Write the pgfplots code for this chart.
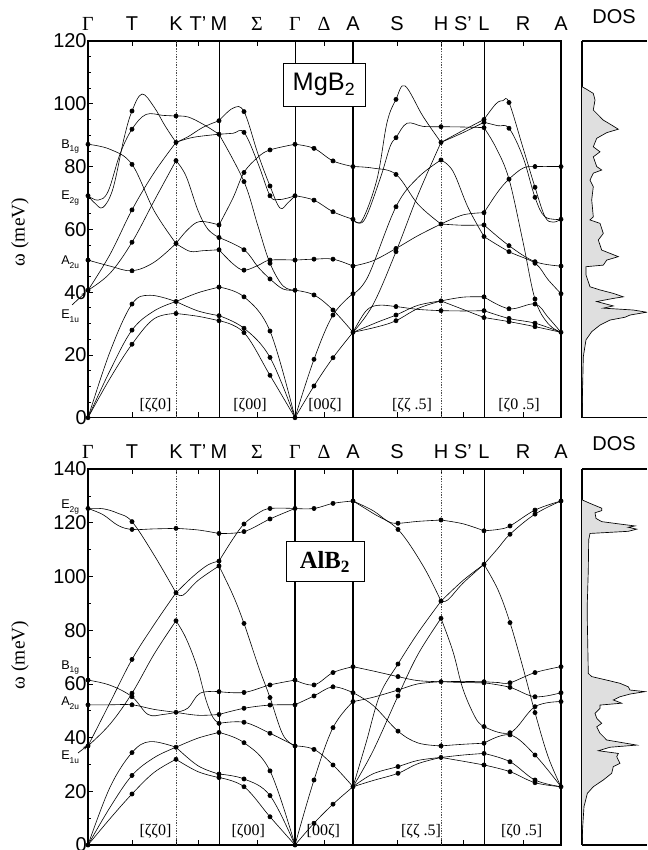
\documentclass[border=0pt]{standalone}
\usepackage{fontspec}
\setmainfont{Liberation Sans}
\newfontfamily\tms{Liberation Serif}
\usepackage{pgfplots}
\pgfplotsset{compat=1.18}
\usetikzlibrary{arrows.meta}
\newcommand\lab{\fontsize{15}{16}\selectfont}
\newcommand\md[2]{{\fontsize{9.5}{9.5}\selectfont #1\raisebox{-0.45ex}{\fontsize{6.3}{6.3}\selectfont #2}}}
\newcommand\B[1]{\addplot[br] coordinates {#1};}
\tikzset{
  vl/.style={line width=0.5pt},
  vd/.style={line width=0.5pt, gray!60!black, dash pattern=on 1pt off 1pt},
}
\pgfplotsset{
  br/.style={black, line width=0.45pt, smooth, tension=0.6, mark=none},
  dots/.style={only marks, mark=*, mark size=1.6pt, black},
  main/.style={anchor=south west, scale only axis, width=354.75pt,
    xmin=0, xmax=473, ymin=0,
    xtick={0,44,88,110,131,169,207,236,265,309,353,375,396,435,473},
    xticklabels={{\tms Γ},T,K,T’,M,{\tms Σ},{\tms Γ},{\tms Δ},A,S,H,S’,L,R,A},
    xtick pos=both, xticklabel pos=upper, ytick pos=left,
    tick align=inside, major tick length=4pt, minor tick length=2pt,
    axis line style={line width=0.9pt},
    tick style={line width=0.5pt, black},
    tick label style={font=\lab},
    yticklabel style={xshift=2.5pt},
    xticklabel style={anchor=base, yshift=7.6pt},
    /pgf/number format/assume math mode=true},
  dos/.style={anchor=south west, scale only axis, width=48.75pt,
    xmin=0, xmax=65, ymin=0, ticks=none,
    axis x line*=box, axis y line*=left,
    axis line style={line width=0.9pt,-}},
}
\begin{document}
\begin{tikzpicture}
\useasboundingbox (0,0) rectangle (485.25pt,637.5pt);
% ===================== MgB2 =====================
\begin{axis}[main, at={(66pt,324.225pt)}, height=282.525pt, ymax=120,
  ytick={0,20,...,120}, minor y tick num=3]
\draw[vd] (axis cs:88,0) -- (axis cs:88,120);
\draw[vl] (axis cs:131,0) -- (axis cs:131,120);
\draw[vl] (axis cs:207,0) -- (axis cs:207,120);
\draw[line width=0.8pt] (axis cs:265,0) -- (axis cs:265,120);
\draw[vd] (axis cs:353,0) -- (axis cs:353,120);
\draw[vl] (axis cs:396,0) -- (axis cs:396,120);
% Gamma-K
\B{(0,0)(22,12.5)(44,23.4)(66,31.5)(88,33.2)}
\B{(0,0)(22,15)(44,27.9)(66,34)(88,37.0)}
\B{(0,0)(22,21)(44,36.2)(62,39.0)(88,37.0)}
\B{(0,50.2)(22,48.3)(44,46.8)(66,49.5)(88,55.5)}
\B{(0,87.1)(22,85.5)(44,80.7)(66,66)(88,55.5)}
\B{(0,40.6)(22,46)(44,55.9)(66,69)(88,81.9)}
\B{(0,40.6)(22,52)(44,66.2)(66,78)(88,87.7)}
\B{(0,70.7)(7,68.3)(15,67)(25,73)(36,89)(44,97.7)(54,103.1)(66,99)(77,93)(88,87.7)}
\B{(0,70.7)(10,69.3)(20,72)(32,84)(44,91.9)(58,96.6)(75,96.3)(88,96.1)}
% K-M
\B{(88,96.1)(100,95.8)(115,93.5)(131,90.3)}
\B{(88,87.7)(100,89.5)(115,92.5)(131,94.6)}
\B{(88,87.7)(105,89.3)(131,90.3)}
\B{(88,81.9)(98,77)(110,66)(120,60)(131,57.4)}
\B{(88,55.5)(100,60)(112,62.5)(131,61.4)}
\B{(88,55.5)(102,53)(115,53.2)(131,53.5)}
\B{(88,37.0)(110,39.8)(131,41.6)}
\B{(88,37.0)(110,34)(131,32.5)}
\B{(88,33.2)(110,32.3)(131,30.9)}
% M-Gamma
\B{(131,94.6)(145,98.6)(156,97.5)(170,84)(182,73.8)(192,66.8)(200,68.5)(207,70.7)}
\B{(131,90.3)(145,90.6)(156,90.9)(170,81)(182,70.7)(190,69.5)(200,70)(207,70.7)}
\B{(131,90.3)(156,75.2)(170,61)(182,49.2)(195,42)(207,40.6)}
\B{(131,61.4)(145,70)(156,78.1)(170,83)(182,85.3)(207,87.1)}
\B{(131,57.4)(156,53.5)(170,48)(182,44.2)(195,41)(207,40.6)}
\B{(131,53.5)(145,49)(156,47.0)(170,48.5)(182,50.2)(207,50.2)}
\B{(131,41.6)(156,38.5)(182,27.6)(207,0)}
\B{(131,32.5)(156,28.5)(182,19.2)(207,0)}
\B{(131,30.9)(156,27.1)(182,13.5)(207,0)}
% Gamma-A
\B{(207,87.1)(226,85.8)(245,81.8)(265,80.0)}
\B{(207,70.7)(226,69.3)(245,65.6)(265,63.2)}
\B{(207,50.2)(226,50.5)(245,50.5)(265,48.3)}
\B{(207,40.6)(226,39.1)(245,34.3)(265,27.2)}
\B{(207,0)(226,18.6)(245,32.7)(265,39.5)}
\B{(207,0)(226,10.1)(245,19.1)(265,27.2)}
% A-H
\B{(265,63.2)(274,62.8)(289,76)(299,94)(308,101.4)(317,105.7)(335,96)(353,87.7)}
\B{(265,63.2)(276,62.8)(292,76)(302,86.3)(308,89.2)(319,93.8)(335,92.8)(353,92.7)}
\B{(265,80.0)(285,79.5)(308,77.5)(330,68)(353,61.7)}
\B{(265,48.3)(285,50)(308,53.9)(330,58)(353,61.7)}
\B{(265,39.5)(280,45)(308,67.2)(330,76.5)(353,82.1)}
\B{(265,27.2)(285,36)(308,52.9)(330,71)(353,87.7)}
\B{(265,27.2)(278,34)(290,35.8)(308,35.4)(330,34.5)(353,34.1)}
\B{(265,27.2)(290,30.5)(308,32.7)(330,35.8)(353,37.2)}
\B{(265,27.2)(290,29)(308,30.9)(330,34.8)(353,37.2)}
% H-L
\B{(353,92.7)(375,92.6)(396,92.4)}
\B{(353,87.7)(375,91.5)(396,95.0)}
\B{(353,87.7)(375,90.8)(396,94.1)}
\B{(353,82.1)(365,78.5)(380,67)(396,57.7)}
\B{(353,61.7)(375,64.6)(396,65.3)}
\B{(353,61.7)(375,61.3)(396,61.4)}
\B{(353,37.2)(375,38.4)(396,38.5)}
\B{(353,37.2)(375,34.5)(396,31.9)}
\B{(353,34.1)(375,34.0)(396,34.1)}
% L-A
\B{(396,95.0)(408,100)(415,101)(421,100.4)(435,86)(447,73.4)(457,64)(465,62.3)(473,63.2)}
\B{(396,94.1)(410,93)(421,92.2)(435,83)(447,70.2)(457,64)(473,63.2)}
\B{(396,92.4)(408,86)(421,76.0)(435,56)(447,37.8)(460,30)(473,27.2)}
\B{(396,65.3)(410,72)(421,76.0)(435,79.5)(447,80.0)(473,80.0)}
\B{(396,61.4)(421,54.8)(447,49.7)(473,48.3)}
\B{(396,57.7)(421,52.9)(447,49.2)(460,44)(473,39.5)}
\B{(396,38.5)(421,34.7)(447,36.2)(460,32)(473,27.2)}
\B{(396,34.1)(421,31.6)(447,30.1)(473,27.2)}
\B{(396,31.9)(421,30.6)(447,29.0)(473,27.2)}
\addplot[dots] coordinates {
(0,87.1)(0,70.7)(0,50.2)(0,40.6)(0,0)
(44,23.4)(44,27.9)(44,36.2)(44,46.8)(44,55.9)(44,66.2)(44,80.7)(44,91.9)(44,97.7)
(88,96.1)(88,87.7)(88,81.9)(88,55.5)(88,37.0)(88,33.2)
(131,94.6)(131,90.3)(131,61.4)(131,57.4)(131,53.5)(131,41.6)(131,32.5)(131,30.9)
(156,97.5)(156,90.9)(156,78.1)(156,75.2)(156,53.5)(156,47.0)(156,38.5)(156,28.5)(156,27.1)
(182,85.3)(182,73.8)(182,70.7)(182,50.2)(182,49.2)(182,44.2)(182,27.6)(182,19.2)(182,13.5)
(207,87.1)(207,70.7)(207,50.2)(207,40.6)(207,0)
(226,85.8)(226,69.3)(226,50.5)(226,39.1)(226,18.6)(226,10.1)
(245,81.8)(245,65.6)(245,50.5)(245,34.3)(245,32.7)(245,19.1)
(265,80.0)(265,63.2)(265,48.3)(265,39.5)(265,27.2)
(308,101.4)(308,89.2)(308,77.5)(308,67.2)(308,53.9)(308,52.9)(308,35.4)(308,32.7)(308,30.9)
(353,92.7)(353,87.7)(353,82.1)(353,61.7)(353,37.2)(353,34.1)
(396,95.0)(396,94.1)(396,92.4)(396,65.3)(396,61.4)(396,57.7)(396,38.5)(396,34.1)(396,31.9)
(421,100.4)(421,92.2)(421,76.0)(421,54.8)(421,52.9)(421,34.7)(421,31.6)(421,30.6)
(447,80.0)(447,73.4)(447,70.2)(447,49.7)(447,49.2)(447,37.8)(447,36.2)(447,30.1)(447,29.0)
(473,80.0)(473,63.2)(473,48.3)(473,39.5)(473,27.2)};
\end{axis}
\begin{axis}[dos, at={(436.5pt,324.225pt)}, height=282.525pt, ymax=120]
\addplot[fill=gray!25, draw=black, line width=0.5pt] coordinates {
(0,105.5)(0.7,105.3)(4.7,104.6)(11.3,103.3)(13,101.2)(11.3,98.0)(21.3,94.8)(29.7,93.2)(36.3,91.9)(24.7,90.8)(14.7,89.0)(11.3,86.3)(18,84.7)(11.3,83.1)(14.7,80.0)(19.7,78.9)(11.3,77.9)(8,75.7)(11.3,73.6)(9.7,69.4)(11.3,64.0)(8,63.0)(18,61.9)(21.3,58.7)(16.3,56.6)(19.7,53.4)(36.3,51.3)(24.7,50.2)(21.3,48.6)(4,48.1)(4,45.5)(8,41.7)(18,40.7)(31.3,39.6)(41.3,38.5)(31.3,38.0)(14.7,37.0)(31.3,35.6)(21.3,34.9)(51.3,34.3)(64.7,33.6)(48,32.7)(43,32.0)(28,31.1)(18,29.5)(9.7,27.4)(4,24.8)(1.3,19.4)(0.7,11.0)(0,1.4)(0,0)};
\end{axis}
% ===================== AlB2 =====================
\begin{axis}[main, at={(66pt,3.75pt)}, height=282pt, ymax=140,
  ytick={0,20,...,140}, minor y tick num=1]
\draw[vd] (axis cs:88,0) -- (axis cs:88,140);
\draw[vl] (axis cs:131,0) -- (axis cs:131,140);
\draw[line width=0.8pt] (axis cs:207,0) -- (axis cs:207,140);
\draw[line width=0.8pt] (axis cs:265,0) -- (axis cs:265,140);
\draw[vd] (axis cs:353,0) -- (axis cs:353,140);
\draw[vl] (axis cs:396,0) -- (axis cs:396,140);
% Gamma-K
\B{(0,125.3)(15,125.2)(30,123.5)(44,120.4)(66,108)(88,93.9)}
\B{(0,125.3)(15,123)(30,119)(44,117.5)(66,117.7)(88,117.9)}
\B{(0,36.9)(22,53)(44,69.1)(66,82)(88,93.9)}
\B{(0,36.9)(22,45)(44,56.5)(66,71)(88,83.5)}
\B{(0,61.4)(22,59.5)(44,55.2)(60,48.6)(75,48.6)(88,49.4)}
\B{(0,52.2)(22,52.2)(44,52.2)(66,50.5)(88,49.4)}
\B{(0,0)(22,21.5)(44,34.4)(62,38.5)(88,36.4)}
\B{(0,0)(22,14)(44,25.9)(66,32.5)(88,36.4)}
\B{(0,0)(22,9.8)(44,19.0)(66,27)(88,31.9)}
% K-M
\B{(88,117.9)(110,117.3)(131,116.0)}
\B{(88,93.9)(105,100)(120,104.3)(131,105.7)}
\B{(88,93.9)(95,93)(110,98.5)(131,103.9)}
\B{(88,83.5)(98,77)(109,66.4)(118,54)(125,47.5)(131,45.3)}
\B{(88,49.4)(100,51)(112,56.5)(131,57.1)}
\B{(88,49.4)(110,48.3)(131,48.6)}
\B{(88,36.4)(110,39.8)(131,41.9)}
\B{(88,36.4)(110,29.5)(131,26.4)}
\B{(88,31.9)(110,27.3)(131,25.1)}
% M-Gamma
\B{(131,116.0)(156,116.7)(182,121.4)(207,125.3)}
\B{(131,105.7)(145,114)(156,119.5)(170,123.5)(182,125.3)(207,125.3)}
\B{(131,103.9)(145,93)(156,82.5)(170,67)(182,54.9)(195,41)(207,36.9)}
\B{(131,57.1)(156,56.8)(182,59.6)(207,61.4)}
\B{(131,48.6)(156,50.9)(182,52.1)(207,52.2)}
\B{(131,45.3)(156,45.7)(182,41.6)(207,36.9)}
\B{(131,41.9)(156,38.1)(182,27.6)(207,0)}
\B{(131,26.4)(156,24.6)(182,18.4)(207,0)}
\B{(131,25.1)(156,21.7)(182,10.5)(207,0)}
% Gamma-A
\B{(207,125.3)(226,125.3)(245,127.2)(265,128.1)}
\B{(207,61.4)(226,59.6)(245,64.2)(265,66.4)}
\B{(207,52.2)(226,55.5)(245,58.9)(265,56.7)}
\B{(207,36.9)(226,35.6)(245,29.8)(265,21.7)}
\B{(207,0)(226,24.2)(245,43.7)(265,53.4)}
\B{(207,0)(226,8.1)(245,15.2)(265,21.7)}
% A-H
\B{(265,128.1)(285,124.5)(300,120.5)(310,119.8)(330,120.5)(353,121.0)}
\B{(265,128.1)(285,123.5)(310,117.5)(335,104)(353,90.8)}
\B{(265,21.7)(278,38)(292,56)(310,67.4)(330,79)(353,90.8)}
\B{(265,21.7)(285,35)(310,55.5)(330,71)(353,84.4)}
\B{(265,66.4)(285,64.8)(310,62.7)(330,61.2)(353,60.8)}
\B{(265,53.4)(285,55)(310,57.7)(330,60)(353,60.8)}
\B{(265,56.7)(285,52)(310,42.4)(330,38)(353,36.9)}
\B{(265,21.7)(285,26.5)(310,29.2)(330,31.5)(353,32.6)}
\B{(265,21.7)(285,24)(310,26.7)(330,30.3)(353,32.6)}
% H-L
\B{(353,121.0)(375,119.6)(396,117.0)}
\B{(353,90.8)(375,98.5)(396,104.5)}
\B{(353,90.8)(360,91.3)(375,97.5)(396,104.5)}
\B{(353,84.4)(365,72)(375,58)(388,47)(396,44.1)}
\B{(353,60.8)(375,60.9)(396,60.8)}
\B{(353,60.8)(375,60.5)(396,60.4)}
\B{(353,36.9)(375,37.5)(396,37.9)}
\B{(353,32.6)(375,33.5)(396,34.1)}
\B{(353,32.6)(375,31.2)(396,29.8)}
% L-A
\B{(396,117.0)(410,117.5)(422,118.8)(447,124.7)(473,128.1)}
\B{(396,104.5)(410,110.5)(422,115.7)(447,123.2)(473,128.1)}
\B{(396,104.5)(410,95)(422,82.8)(435,66)(447,49.3)(460,33)(473,21.7)}
\B{(396,60.8)(410,60.5)(422,60.4)(447,64.2)(473,66.4)}
\B{(396,60.4)(422,58.7)(447,55.2)(473,56.7)}
\B{(396,44.1)(422,41.8)(447,51.5)(473,53.4)}
\B{(396,37.9)(422,41.0)(447,33.5)(473,21.7)}
\B{(396,34.1)(422,31.0)(447,24.2)(473,21.7)}
\B{(396,29.8)(422,27.3)(447,23.2)(473,21.7)}
\addplot[dots] coordinates {
(0,125.3)(0,61.4)(0,52.2)(0,36.9)(0,0)
(44,120.4)(44,117.5)(44,69.1)(44,56.5)(44,55.2)(44,52.2)(44,34.4)(44,25.9)(44,19.0)
(88,117.9)(88,93.9)(88,83.5)(88,49.4)(88,36.4)(88,31.9)
(131,116.0)(131,105.7)(131,103.9)(131,57.1)(131,48.6)(131,45.3)(131,41.9)(131,26.4)(131,25.1)
(156,119.5)(156,116.7)(156,82.5)(156,56.8)(156,50.9)(156,45.7)(156,38.1)(156,24.6)(156,21.7)
(182,125.3)(182,121.4)(182,59.6)(182,54.9)(182,52.1)(182,41.6)(182,27.6)(182,18.4)(182,10.5)
(207,125.3)(207,61.4)(207,52.2)(207,36.9)(207,0)
(226,125.3)(226,59.6)(226,55.5)(226,35.6)(226,24.2)(226,8.1)
(245,127.2)(245,64.2)(245,58.9)(245,43.7)(245,29.8)(245,15.2)
(265,128.1)(265,66.4)(265,56.7)(265,53.4)(265,21.7)
(310,119.8)(310,117.5)(310,67.4)(310,62.7)(310,57.7)(310,55.5)(310,42.4)(310,29.2)(310,26.7)
(353,121.0)(353,90.8)(353,84.4)(353,60.8)(353,36.9)(353,32.6)
(396,117.0)(396,104.5)(396,60.8)(396,60.4)(396,44.1)(396,37.9)(396,34.1)(396,29.8)
(422,118.8)(422,115.7)(422,82.8)(422,60.4)(422,58.7)(422,41.8)(422,41.0)(422,31.0)(422,27.3)
(447,124.7)(447,123.2)(447,64.2)(447,55.2)(447,51.5)(447,49.3)(447,33.5)(447,24.2)(447,23.2)
(473,128.1)(473,66.4)(473,56.7)(473,53.4)(473,21.7)};
\end{axis}
\begin{axis}[dos, at={(436.5pt,3.75pt)}, height=282pt, ymax=140]
\addplot[fill=gray!25, draw=black, line width=0.5pt] coordinates {
(0,128.6)(0.7,128.4)(8,127.2)(19.7,125.4)(19.7,124.5)(13,123.7)(14,121.6)(19.7,120.4)(38,119.5)(53,118.8)(46.3,118.3)(54.7,117.6)(46.3,116.8)(8,116.0)(6.7,113.6)(6.3,102.4)(5.3,90.0)(5.3,83.8)(6.3,63.9)(9.7,62.7)(24.7,61.4)(38,60.2)(46.3,58.9)(48,57.7)(63,57.1)(48,56.2)(38,55.2)(31.3,54.0)(39.7,52.8)(18,52.1)(18,50.9)(13,49.0)(14.7,47.2)(19.7,45.3)(14.7,44.0)(18,41.6)(24.7,39.1)(54.7,37.2)(28,36.4)(16.3,35.1)(36.3,34.1)(34.7,32.9)(38,30.4)(31.3,29.2)(29.7,26.7)(21.3,24.2)(11.3,21.7)(5.3,19.2)(2,14.3)(0.7,6.8)(0,0.6)(0,0)};
\end{axis}
% ===================== annotations =====================
\node[font=\lab, anchor=base] at (460.5pt,620pt) {DOS};
\node[font=\lab, anchor=base] at (460.5pt,299.5pt) {DOS};
\node[rotate=90, font=\tms\fontsize{14.5}{14.5}\selectfont] at (15pt,463.5pt) {ω (meV)};
\node[rotate=90, font=\tms\fontsize{14.5}{14.5}\selectfont] at (15pt,146.25pt) {ω (meV)};
\node[anchor=base west, inner sep=0pt] at (45.75pt,526pt) {\md{B}{1g}};
\node[anchor=base west, inner sep=0pt] at (45.75pt,487.5pt) {\md{E}{2g}};
\node[anchor=base west, inner sep=0pt] at (45.75pt,438.75pt) {\md{A}{2u}};
\node[anchor=base west, inner sep=0pt] at (45.75pt,398.25pt) {\md{E}{1u}};
\draw[-{Stealth[length=3pt,width=2.5pt]}, line width=0.5pt] (54pt,408.75pt) -- (64pt,418pt);
\node[anchor=base west, inner sep=0pt] at (45.75pt,255.75pt) {\md{E}{2g}};
\node[anchor=base west, inner sep=0pt] at (45.75pt,135.5pt) {\md{B}{1g}};
\node[anchor=base west, inner sep=0pt] at (45.75pt,108pt) {\md{A}{2u}};
\node[anchor=base west, inner sep=0pt] at (45.75pt,67.5pt) {\md{E}{1u}};
\draw[-{Stealth[length=3pt,width=2.5pt]}, line width=0.5pt] (58.5pt,72.75pt) -- (65.25pt,78pt);
\begin{scope}[every node/.style={font=\tms\fontsize{12}{12}\selectfont}]
\node at (116.6pt,333.4pt) {[ζζ0]};
\node at (187.5pt,333.4pt) {[ζ00]};
\node at (243.75pt,333.4pt) {[00ζ]};
\node at (309pt,333.4pt) {[ζζ .5]};
\node at (389.25pt,333.4pt) {[ζ0 .5]};
\node at (116.6pt,13.9pt) {[ζζ0]};
\node at (186.2pt,13.9pt) {[ζ00]};
\node at (242.5pt,13.9pt) {[00ζ]};
\node at (315.75pt,13.9pt) {[ζζ .5]};
\node at (391.25pt,13.9pt) {[ζ0 .5]};
\end{scope}
\node[draw, fill=white, line width=0.5pt, minimum width=61.5pt, minimum height=32.25pt, inner sep=2pt, font=\fontsize{19}{19}\selectfont] at (243pt,574.1pt) {MgB\textsubscript{2}};
\node[draw, fill=white, line width=0.5pt, minimum width=58.5pt, minimum height=30pt, inner sep=2pt, font=\tms\bfseries\fontsize{18.5}{19}\selectfont] at (243.75pt,216.2pt) {AlB\textsubscript{2}};
\end{tikzpicture}
\end{document}
